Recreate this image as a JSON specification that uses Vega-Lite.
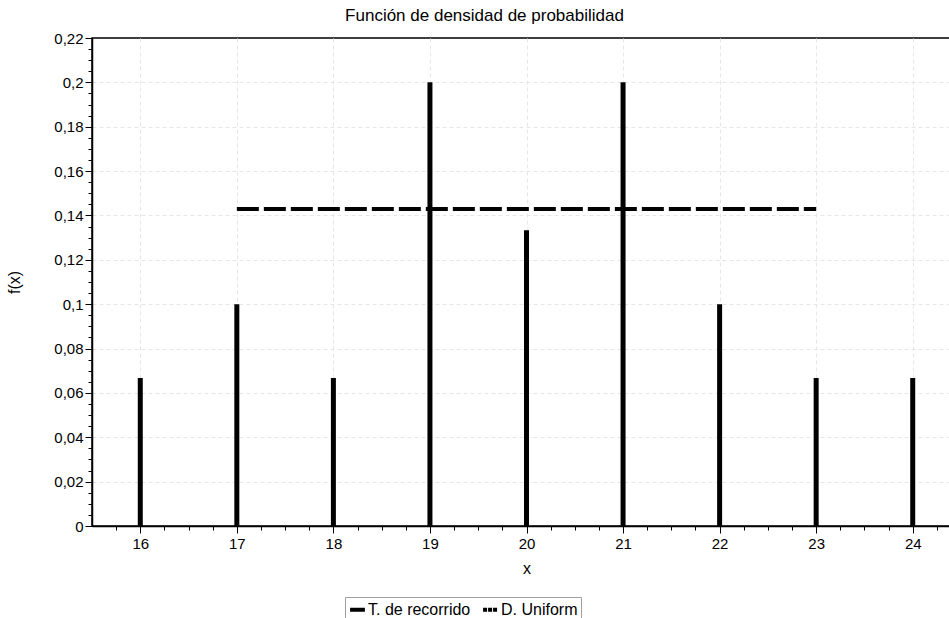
{
  "$schema": "https://vega.github.io/schema/vega-lite/v6.json",
  "autosize": {"type": "none"},
  "padding": {"left": 92, "top": 38, "right": 0, "bottom": 92},
  "width": 869,
  "height": 488,
  "background": "white",
  "title": {"text": "Función de densidad de probabilidad", "anchor": "middle", "dx": -42, "offset": 6, "fontSize": 17, "fontWeight": "normal", "font": "Liberation Sans", "color": "#000000"},
  "config": {
    "locale": {"number": {"decimal": ",", "thousands": ".", "grouping": [3], "currency": ["", "€"]}},
    "view": {"stroke": "#000000", "strokeWidth": 1.5},
    "font": "Liberation Sans",
    "axis": {"labelFont": "Liberation Sans", "titleFont": "Liberation Sans", "labelFontSize": 15, "titleFontSize": 16, "titleFontWeight": "normal", "labelColor": "#000000", "titleColor": "#000000", "domainColor": "#000000", "domainWidth": 1.5, "tickColor": "#000000", "gridColor": "#e6e6e6", "gridDash": [4, 3], "gridWidth": 1, "tickCount": 100}
  },
  "datasets": {
    "stems": [
      {"x": 16, "f": 0.0667, "serie": "T. de recorrido"},
      {"x": 17, "f": 0.1, "serie": "T. de recorrido"},
      {"x": 18, "f": 0.0667, "serie": "T. de recorrido"},
      {"x": 19, "f": 0.2, "serie": "T. de recorrido"},
      {"x": 20, "f": 0.1333, "serie": "T. de recorrido"},
      {"x": 21, "f": 0.2, "serie": "T. de recorrido"},
      {"x": 22, "f": 0.1, "serie": "T. de recorrido"},
      {"x": 23, "f": 0.0667, "serie": "T. de recorrido"},
      {"x": 24, "f": 0.0667, "serie": "T. de recorrido"}
    ],
    "uniform": [
      {"x": 17, "x2": 23, "f": 0.142857, "serie": "D. Uniform"}
    ]
  },
  "layer": [
    {
      "data": {"name": "stems"},
      "mark": {"type": "rule", "strokeWidth": 5},
      "encoding": {
        "x": {"field": "x", "type": "quantitative",
          "scale": {"domain": [15.5, 24.5], "nice": false, "zero": false},
          "axis": {
            "title": "x", "titlePadding": 9, "tickCount": 100,
            "values": [15.75, 16, 16.25, 16.5, 16.75, 17, 17.25, 17.5, 17.75, 18, 18.25, 18.5, 18.75, 19, 19.25, 19.5, 19.75, 20, 20.25, 20.5, 20.75, 21, 21.25, 21.5, 21.75, 22, 22.25, 22.5, 22.75, 23, 23.25, 23.5, 23.75, 24, 24.25],
            "format": ".0f",
            "labelExpr": "datum.value % 1 == 0 ? datum.label : ''",
            "tickSize": {"condition": {"test": "datum.value % 1 == 0", "value": 7}, "value": 4},
            "gridOpacity": {"condition": {"test": "datum.value % 1 == 0", "value": 1}, "value": 0},
            "labelPadding": 3,
            "labelFlush": false,
            "labelOverlap": false
          }
        },
        "y": {"field": "f", "type": "quantitative",
          "scale": {"domain": [0, 0.22], "nice": false},
          "axis": {
            "title": "f(x)", "titleX": -70, "titleY": 244, "tickCount": 100,
            "values": [0, 0.005, 0.01, 0.015, 0.02, 0.025, 0.03, 0.035, 0.04, 0.045, 0.05, 0.055, 0.06, 0.065, 0.07, 0.075, 0.08, 0.085, 0.09, 0.095, 0.1, 0.105, 0.11, 0.115, 0.12, 0.125, 0.13, 0.135, 0.14, 0.145, 0.15, 0.155, 0.16, 0.165, 0.17, 0.175, 0.18, 0.185, 0.19, 0.195, 0.2, 0.205, 0.21, 0.215, 0.22],
            "format": ".2~f",
            "labelExpr": "abs(datum.value*50 - round(datum.value*50)) < 0.000001 ? datum.label : ''",
            "tickSize": {"condition": {"test": "abs(datum.value*50 - round(datum.value*50)) < 0.000001", "value": 7}, "value": 4},
            "gridOpacity": {"condition": {"test": "abs(datum.value*50 - round(datum.value*50)) < 0.000001 && datum.value > 0 && datum.value < 0.219", "value": 1}, "value": 0},
            "labelPadding": 2,
            "labelFlush": false,
            "labelOverlap": false
          }
        },
        "y2": {"datum": 0},
        "color": {"field": "serie", "type": "nominal",
          "scale": {"domain": ["T. de recorrido", "D. Uniform"], "range": ["#000000", "#000000"]},
          "legend": {
            "title": null, "orient": "none", "legendX": 253, "legendY": 559,
            "direction": "horizontal", "columns": 2, "gridAlign": "all",
            "strokeColor": "#a0a0a0", "padding": 3,
            "symbolType": "stroke", "symbolSize": 220, "symbolStrokeWidth": 4,
            "labelFontSize": 16, "labelFont": "Liberation Sans", "labelColor": "#000000", "labelOffset": 1,
            "columnPadding": 4,
            "encode": {"symbols": {"update": {"strokeDash": {"signal": "datum.value == 'D. Uniform' ? [4, 1] : [1, 0]"}}}}
          }
        }
      }
    },
    {
      "data": {"name": "uniform"},
      "mark": {"type": "rule", "strokeWidth": 4, "strokeDash": [22, 5]},
      "encoding": {
        "x": {"field": "x", "type": "quantitative"},
        "x2": {"field": "x2"},
        "y": {"field": "f", "type": "quantitative"},
        "color": {"field": "serie", "type": "nominal"}
      }
    }
  ]
}
